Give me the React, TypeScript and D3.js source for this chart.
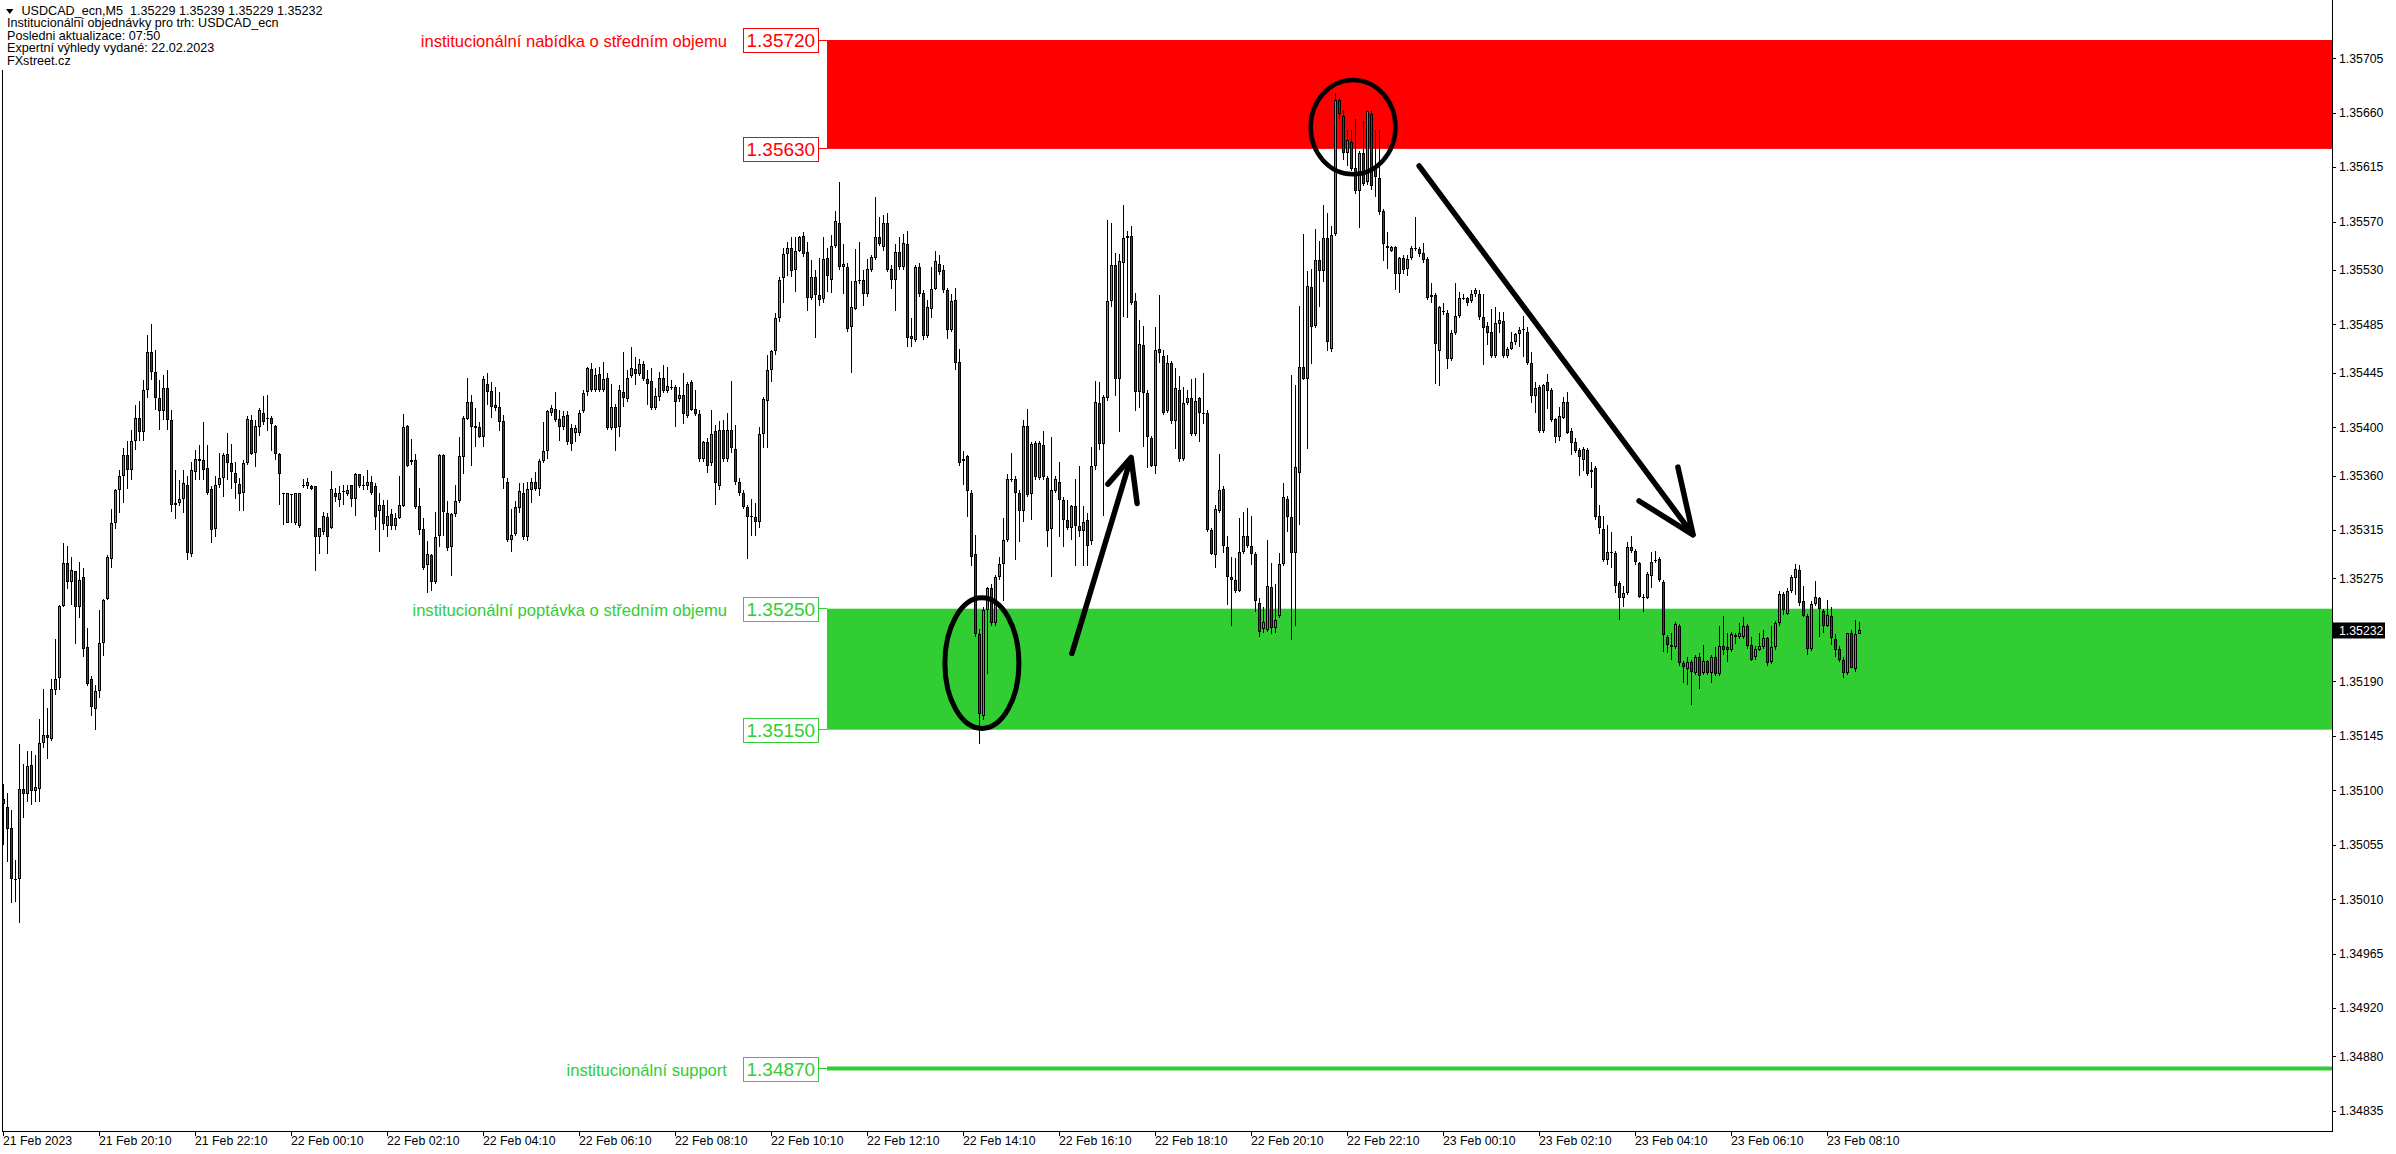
import React, { useEffect, useRef } from 'react';
import * as d3 from 'd3';

// M5 bars, first bar 21 Feb 18:10. [open, high, low, close] in points above 1.30000 (5093 -> 1.35093)
const feb21 = [
  [5093,5105,5055,5089],[5086,5098,5041,5068],[5069,5084,5007,5027],[5026,5042,5008,5027],[5027,5138,4990,5101],
  [5101,5122,5077,5097],[5097,5132,5090,5120],[5121,5132,5088,5099],[5099,5129,5090,5103],[5101,5159,5090,5139],
  [5139,5184,5135,5146],[5146,5168,5126,5143],[5142,5192,5141,5184],[5183,5225,5179,5192],[5193,5253,5183,5252],
  [5252,5304,5251,5288],[5288,5302,5266,5272],[5272,5293,5253,5282],[5281,5281,5221,5251],[5251,5289,5242,5274],
  [5276,5284,5210,5217],[5218,5234,5186,5188],[5192,5194,5161,5169],[5167,5187,5150,5182],[5182,5249,5176,5222],
  [5222,5258,5211,5257],[5258,5294,5257,5293],[5291,5332,5284,5321],[5321,5349,5316,5348],[5348,5365,5329,5360],
  [5360,5383,5337,5377],[5377,5389,5349,5365],[5365,5398,5356,5389],[5389,5418,5381,5408],[5408,5422,5389,5396],
  [5396,5439,5389,5431],[5431,5476,5424,5462],[5462,5485,5439,5446],[5446,5464,5414,5424],[5424,5439,5398,5413],
  [5413,5443,5406,5432],[5432,5447,5398,5406],[5406,5414,5330,5336],[5336,5365,5324,5337],[5337,5356,5335,5341],
  [5341,5365,5329,5354],[5352,5360,5290,5296],[5295,5371,5293,5365],[5363,5381,5356,5374],[5374,5385,5356,5372],
  [5373,5404,5356,5365],[5366,5385,5344,5346],[5349,5351,5304,5315],[5316,5360,5309,5352],[5352,5379,5350,5358],
  [5358,5379,5342,5377],[5378,5395,5356,5370],[5370,5386,5349,5363],[5362,5371,5341,5354],[5353,5358,5331,5345],
  [5346,5373,5331,5370],[5370,5409,5369,5407],[5406,5410,5377,5378],[5379,5406,5367,5401],[5400,5416,5393,5414],
  [5412,5426,5402,5404],[5408,5427,5397,5408],[5408,5409,5380,5403],[5401,5402,5373,5378],[5378,5379,5336,5361],
];

const feb22a = [
  [5346,5346,5319,5346],[5321,5346,5321,5346],[5345,5345,5321,5345],[5321,5346,5319,5346],[5318,5346,5317,5346],
  [5352,5357,5350,5352],[5351,5358,5349,5355],[5351,5352,5348,5349],[5351,5351,5281,5309],[5309,5317,5295,5317],
  [5313,5330,5311,5327],[5326,5329,5295,5309],[5317,5364,5316,5349],[5346,5350,5338,5342],[5340,5351,5334,5346],
  [5347,5352,5336,5347],[5345,5352,5343,5348],[5352,5352,5334,5341],[5341,5362,5327,5361],[5361,5361,5350,5351],
  [5352,5360,5348,5351],[5351,5365,5348,5355],[5355,5360,5344,5346],[5351,5354,5315,5326],[5331,5346,5297,5336],
  [5336,5340,5315,5320],[5318,5340,5309,5327],[5328,5332,5315,5318],[5318,5329,5315,5325],[5325,5360,5324,5336],
  [5335,5411,5334,5400],[5401,5402,5367,5368],[5373,5390,5369,5371],[5373,5378,5332,5334],[5335,5350,5311,5315],
  [5316,5325,5282,5284],[5286,5306,5263,5295],[5294,5295,5265,5272],[5272,5330,5270,5309],[5310,5378,5301,5377],
  [5377,5378,5310,5330],[5329,5339,5298,5300],[5301,5329,5277,5328],[5328,5352,5326,5339],[5339,5392,5337,5376],
  [5375,5409,5361,5408],[5407,5441,5406,5421],[5421,5427,5368,5400],[5401,5416,5384,5399],[5400,5404,5391,5392],
  [5392,5442,5384,5440],[5436,5445,5418,5429],[5430,5437,5408,5417],[5418,5433,5413,5416],[5417,5429,5397,5404],
  [5405,5410,5349,5358],[5355,5358,5305,5307],[5307,5332,5297,5311],[5312,5339,5310,5334],[5333,5354,5329,5347],
  [5346,5354,5307,5309],[5309,5355,5306,5349],[5348,5358,5337,5355],[5355,5363,5347,5349],[5349,5374,5343,5372],
  [5372,5404,5370,5380],[5380,5414,5374,5413],[5412,5418,5409,5416],[5415,5429,5404,5406],[5407,5414,5389,5400],
  [5400,5413,5398,5409],[5410,5413,5385,5388],[5399,5403,5380,5386],[5395,5402,5388,5399],[5395,5414,5393,5412],
  [5413,5431,5412,5428],[5429,5450,5426,5449],[5448,5453,5429,5431],[5431,5449,5429,5443],[5444,5450,5429,5431],
  [5431,5454,5429,5440],[5441,5445,5398,5399],[5399,5436,5398,5417],[5417,5419,5380,5399],[5400,5435,5392,5431],
  [5429,5462,5417,5424],[5423,5447,5421,5441],[5442,5466,5441,5449],[5448,5458,5435,5444],[5444,5456,5442,5452],
  [5452,5455,5438,5440],[5440,5447,5418,5436],[5438,5449,5414,5416],[5416,5432,5414,5426],[5425,5446,5422,5441],
  [5441,5451,5428,5430],[5430,5450,5428,5434],[5433,5439,5431,5433],[5433,5435,5400,5421],[5423,5433,5421,5427],
  [5427,5445,5403,5411],[5409,5437,5408,5436],[5437,5439,5413,5414],[5415,5431,5409,5411],[5411,5414,5371,5374],
  [5374,5389,5371,5388],[5388,5391,5362,5368],[5370,5414,5368,5394],[5397,5402,5336,5354],[5351,5405,5348,5398],
  [5398,5406,5371,5374],[5374,5412,5371,5398],[5398,5438,5379,5383],[5382,5402,5352,5355],[5355,5358,5343,5346],
  [5346,5348,5332,5334],[5334,5336,5291,5326],[5327,5341,5310,5326],[5326,5337,5310,5322],[5322,5400,5317,5394],
  [5394,5425,5383,5423],[5422,5460,5383,5447],[5447,5464,5437,5463],[5463,5494,5460,5490],[5490,5524,5487,5522],
  [5523,5548,5503,5543],[5543,5553,5525,5548],[5548,5557,5524,5529],[5530,5557,5512,5546],[5546,5558,5545,5557],
  [5558,5561,5541,5543],[5545,5553,5496,5507],[5507,5538,5505,5524],[5524,5530,5474,5509],[5509,5540,5500,5505],
  [5506,5557,5503,5539],[5540,5548,5512,5525],[5522,5559,5511,5550],[5550,5579,5548,5570],[5569,5603,5530,5532],
  [5532,5551,5510,5535],[5532,5536,5479,5481],[5483,5521,5445,5499],[5498,5547,5497,5521],
];

const feb22b = [
  [5521,5553,5518,5522],[5522,5530,5500,5510],[5510,5539,5508,5531],[5530,5542,5528,5541],[5540,5590,5538,5557],
  [5557,5574,5550,5551],[5549,5575,5546,5569],[5569,5577,5528,5530],[5531,5534,5514,5522],[5522,5551,5496,5545],
  [5545,5557,5530,5532],[5532,5560,5530,5552],[5551,5562,5466,5474],[5475,5490,5466,5473],[5472,5534,5470,5532],
  [5532,5536,5508,5510],[5511,5513,5472,5475],[5475,5505,5474,5499],[5498,5532,5490,5514],[5514,5546,5513,5537],
  [5535,5542,5526,5528],[5530,5534,5511,5513],[5513,5515,5473,5480],[5480,5510,5479,5504],[5505,5515,5447,5453],
  [5454,5465,5368,5370],[5374,5380,5352,5372],[5376,5377,5326,5347],[5346,5348,5285,5293],[5295,5311,5227,5229],
  [5229,5233,5138,5163],[5161,5251,5158,5249],[5249,5268,5196,5267],[5267,5270,5236,5238],[5238,5278,5236,5276],
  [5276,5293,5274,5287],[5287,5325,5256,5307],[5307,5361,5305,5357],[5357,5379,5355,5357],[5357,5360,5290,5346],
  [5346,5348,5305,5331],[5331,5406,5322,5401],[5401,5415,5342,5344],[5345,5388,5323,5386],[5387,5389,5356,5359],
  [5358,5389,5356,5387],[5385,5397,5356,5359],[5358,5360,5301,5314],[5316,5392,5276,5348],[5347,5360,5346,5357],
  [5355,5371,5309,5340],[5340,5342,5301,5323],[5323,5340,5315,5317],[5317,5336,5307,5335],[5335,5357,5285,5318],
  [5318,5368,5309,5314],[5314,5335,5285,5322],[5323,5329,5285,5302],[5306,5384,5303,5368],[5368,5438,5365,5421],
  [5420,5437,5381,5386],[5386,5427,5327,5425],[5424,5571,5422,5504],[5504,5569,5499,5534],[5534,5544,5426,5440],
  [5440,5543,5396,5537],[5536,5584,5491,5556],[5556,5562,5490,5558],[5558,5566,5501,5503],[5504,5511,5413,5429],
  [5429,5489,5416,5469],[5468,5484,5384,5428],[5428,5431,5366,5392],[5391,5393,5367,5368],[5368,5483,5361,5464],
  [5465,5509,5453,5461],[5459,5464,5410,5412],[5413,5460,5412,5453],[5453,5455,5403,5405],[5405,5449,5382,5432],
  [5431,5442,5371,5374],[5374,5433,5372,5420],[5420,5431,5418,5424],[5424,5440,5393,5394],[5394,5441,5393,5422],
  [5424,5425,5388,5412],[5412,5445,5403,5412],[5412,5414,5313,5315],[5315,5317,5294,5295],[5294,5336,5284,5332],
  [5331,5378,5329,5348],[5349,5351,5296,5302],[5301,5310,5253,5276],[5276,5293,5236,5274],[5274,5292,5263,5265],
  [5265,5325,5264,5297],[5297,5330,5295,5310],[5310,5333,5300,5302],[5302,5327,5286,5295],[5295,5297,5247,5256],
  [5255,5259,5227,5231],[5233,5251,5230,5239],[5232,5307,5231,5269],[5268,5288,5229,5234],[5234,5270,5230,5241],
  [5244,5296,5242,5287],[5287,5354,5285,5342],[5341,5343,5313,5326],[5326,5443,5224,5296],[5296,5435,5236,5367],
  [5362,5500,5319,5450],[5450,5560,5439,5440],[5440,5529,5382,5517],[5516,5531,5452,5483],[5484,5564,5482,5538],
  [5538,5554,5499,5529],[5529,5584,5520,5556],[5556,5577,5463,5470],[5465,5566,5462,5559],[5560,5676,5558,5670],
  [5670,5672,5654,5659],[5657,5662,5621,5627],[5627,5646,5616,5637],[5636,5646,5612,5613],[5614,5655,5593,5595],
  [5595,5628,5565,5627],[5627,5653,5599,5601],[5603,5662,5600,5661],[5659,5662,5596,5599],[5614,5646,5590,5607],
  [5606,5646,5575,5578],[5579,5580,5537,5551],[5550,5561,5531,5548],[5546,5550,5545,5549],[5549,5550,5513,5527],
  [5527,5541,5511,5540],[5540,5542,5527,5530],[5531,5542,5525,5539],[5540,5550,5538,5548],[5548,5574,5546,5547],
  [5547,5549,5541,5543],[5544,5552,5536,5538],[5539,5541,5505,5507],[5509,5519,5503,5508],
];

const feb23 = [
  [5509,5511,5436,5469],[5463,5500,5434,5499],[5496,5503,5493,5496],[5494,5497,5448,5456],[5456,5480,5455,5478],
  [5478,5519,5476,5492],[5492,5512,5490,5507],[5507,5510,5505,5506],[5507,5508,5500,5503],[5504,5513,5503,5510],
  [5510,5515,5508,5513],[5510,5513,5489,5491],[5491,5510,5451,5482],[5484,5487,5468,5478],[5479,5498,5457,5459],
  [5459,5499,5457,5486],[5485,5495,5478,5489],[5488,5495,5457,5459],[5459,5466,5457,5465],[5465,5479,5464,5470],
  [5470,5478,5468,5477],[5477,5483,5466,5480],[5481,5492,5458,5481],[5479,5483,5451,5453],[5453,5462,5420,5426],
  [5426,5437,5412,5432],[5433,5435,5395,5397],[5397,5436,5395,5435],[5437,5444,5415,5430],[5431,5432,5404,5406],
  [5407,5408,5387,5392],[5392,5417,5389,5409],[5408,5425,5407,5421],[5421,5429,5394,5395],[5397,5399,5377,5387],
  [5388,5391,5379,5380],[5381,5383,5360,5375],[5373,5384,5364,5382],[5381,5383,5360,5361],[5365,5371,5350,5363],
  [5366,5368,5323,5326],[5327,5336,5312,5317],[5316,5327,5289,5290],[5290,5319,5286,5297],[5297,5313,5284,5296],
  [5296,5298,5263,5269],[5271,5273,5241,5259],[5259,5269,5251,5263],[5263,5305,5261,5301],[5301,5310,5296,5298],
  [5298,5299,5286,5289],[5288,5289,5259,5260],[5259,5262,5247,5260],[5259,5280,5258,5279],[5277,5297,5267,5289],
  [5290,5298,5288,5290],[5291,5293,5272,5274],[5272,5274,5214,5228],[5227,5228,5213,5220],[5220,5230,5208,5218],
  [5218,5239,5217,5237],[5236,5237,5203,5205],[5205,5207,5189,5202],[5200,5210,5187,5206],[5206,5208,5170,5198],
  [5197,5212,5195,5210],[5210,5213,5184,5194],[5197,5220,5195,5207],[5207,5208,5195,5197],[5197,5212,5189,5210],
  [5210,5218,5194,5196],[5196,5236,5194,5219],[5219,5244,5212,5216],[5218,5230,5206,5216],[5216,5231,5214,5229],
  [5228,5230,5221,5227],[5227,5238,5225,5230],[5227,5243,5225,5236],[5236,5237,5217,5219],[5220,5227,5207,5208],
  [5210,5219,5208,5217],[5216,5230,5215,5219],[5218,5232,5217,5226],[5226,5227,5203,5205],[5206,5236,5204,5218],
  [5218,5240,5216,5238],[5238,5265,5236,5262],[5262,5264,5245,5249],[5246,5267,5245,5265],[5265,5278,5263,5276],
  [5275,5287,5261,5283],[5282,5286,5252,5255],[5256,5269,5243,5244],[5244,5246,5212,5217],[5217,5256,5215,5254],
  [5254,5273,5252,5260],[5259,5260,5227,5250],[5248,5250,5230,5236],[5236,5257,5235,5245],[5244,5251,5220,5226],
  [5225,5229,5210,5216],[5217,5219,5206,5208],[5208,5210,5193,5197],[5197,5230,5195,5230],[5230,5232,5201,5201],
  [5200,5241,5198,5229],[5229,5239,5229,5232],
];

const TIME_LABELS = [
  '21 Feb 2023', '21 Feb 20:10', '21 Feb 22:10', '22 Feb 00:10', '22 Feb 02:10', '22 Feb 04:10',
  '22 Feb 06:10', '22 Feb 08:10', '22 Feb 10:10', '22 Feb 12:10', '22 Feb 14:10', '22 Feb 16:10',
  '22 Feb 18:10', '22 Feb 20:10', '22 Feb 22:10', '23 Feb 00:10', '23 Feb 02:10', '23 Feb 04:10',
  '23 Feb 06:10', '23 Feb 08:10',
];
const PRICE_TICKS = [
  1.35705, 1.3566, 1.35615, 1.3557, 1.3553, 1.35485, 1.35445, 1.354, 1.3536, 1.35315, 1.35275,
  1.3519, 1.35145, 1.351, 1.35055, 1.3501, 1.34965, 1.3492, 1.3488, 1.34835,
];
const LAST_PRICE = 1.35232;

const HEADER = [
  'USDCAD_ecn,M5  1.35229 1.35239 1.35229 1.35232',
  'Institucionální objednávky pro trh: USDCAD_ecn',
  'Posledni aktualizace: 07:50',
  'Expertní výhledy vydané: 22.02.2023',
  'FXstreet.cz',
];

const SUPPLY = { top: 1.3572, bottom: 1.3563, label: 'institucionální nabídka o středním objemu' };
const DEMAND = { top: 1.3525, bottom: 1.3515, label: 'institucionální poptávka o středním objemu' };
const SUPPORT = { price: 1.3487, label: 'institucionální support' };
const ZONE_START_BAR = 206;

// hand-drawn marks, in (bar index, price)
const ELLIPSES = [
  { bar: 244.6, price: 1.35205, rBars: 9.25, rPrice: 0.00054, w: 5 },
  { bar: 337.4, price: 1.35648, rBars: 10.6, rPrice: 0.00039, w: 4.5 },
];
const ARROWS = [
  { from: [267.1, 1.35213], tip: [281.9, 1.35375], wings: [[276.1, 1.35353], [283.4, 1.35337]] },
  { from: [353.9, 1.35616], tip: [422.4, 1.35311], wings: [[408.9, 1.35339], [418.6, 1.35367]] },
];

const RED = '#ff0000';
const LIME = '#32cd32';
const BULL = '#3cb43c';
const BEAR = '#d80000';
const FONT = "'Liberation Sans', Arial, sans-serif";

export default function App() {
  const svgRef = useRef<SVGSVGElement>(null);

  useEffect(() => {
    document.body.style.margin = '0';
    const width = 2396;
    const height = 1154;
    const plotRight = 2332;
    const plotBottom = 1131;

    const bars = [...feb21, ...feb22a, ...feb22b, ...feb23].map(([o, h, l, c]) => ({
      o: 1.3 + o / 1e5, h: 1.3 + h / 1e5, l: 1.3 + l / 1e5, c: 1.3 + c / 1e5,
    }));

    const x = d3.scaleLinear().domain([0, bars.length - 1]).range([3.5, 3.5 + 4 * (bars.length - 1)]);
    const y = d3.scaleLinear().domain([1.3572, 1.3487]).range([40, 1068.5]);

    const svg = d3.select(svgRef.current);
    svg.selectAll('*').remove();
    svg.attr('width', width).attr('height', height).attr('viewBox', `0 0 ${width} ${height}`);
    svg.append('rect').attr('width', width).attr('height', height).attr('fill', '#fff');

    // zones + support line
    const zx = x(ZONE_START_BAR) - 0.5;
    [[SUPPLY, RED], [DEMAND, LIME]].forEach(([z, col]: any) => {
      svg.append('rect').attr('x', zx).attr('y', y(z.top)).attr('width', plotRight - zx)
        .attr('height', y(z.bottom) - y(z.top)).attr('fill', col);
    });
    svg.append('line').attr('x1', zx).attr('x2', plotRight).attr('y1', y(SUPPORT.price)).attr('y2', y(SUPPORT.price))
      .attr('stroke', LIME).attr('stroke-width', 4);

    // candles
    const g = svg.append('g').attr('shape-rendering', 'crispEdges');
    bars.forEach((b, i) => {
      const cx = x(i);
      const hy = Math.round(y(b.h));
      const ly = Math.round(y(b.l));
      g.append('rect').attr('x', cx - 0.5).attr('y', hy).attr('width', 1).attr('height', Math.max(1, ly - hy)).attr('fill', '#000');
      const top = Math.round(y(Math.max(b.o, b.c)));
      const bot = Math.round(y(Math.min(b.o, b.c)));
      const bh = Math.max(1, bot - top);
      g.append('rect').attr('x', cx - 1.5).attr('y', top).attr('width', 3).attr('height', bh).attr('fill', '#000');
      if (bh > 2) {
        g.append('rect').attr('x', cx - 0.5).attr('y', top + 1).attr('width', 1).attr('height', bh - 2)
          .attr('fill', b.c >= b.o ? BULL : BEAR);
      }
    });

    // level boxes and labels
    const boxW = 75;
    const boxRight = zx - 9;
    const levelBox = (price: number, col: string, label?: string) => {
      const py = y(price);
      svg.append('line').attr('x1', boxRight).attr('x2', zx).attr('y1', py).attr('y2', py)
        .attr('stroke', col).attr('stroke-width', 1).attr('shape-rendering', 'crispEdges');
      svg.append('rect').attr('x', boxRight - boxW + 0.5).attr('y', Math.round(py - 12) + 0.5)
        .attr('width', boxW).attr('height', 24).attr('fill', '#fff').attr('stroke', col).attr('stroke-width', 1);
      svg.append('text').attr('x', boxRight - boxW + 3.5).attr('y', py + 7.3)
        .style('font-family', FONT).style('font-size', '19px').style('fill', col).text(price.toFixed(5));
      if (label) {
        svg.append('text').attr('x', boxRight - boxW - 16).attr('y', py + 7.3).attr('text-anchor', 'end')
          .style('font-family', FONT).style('font-size', '16.6px').style('fill', col).text(label);
      }
    };
    levelBox(SUPPLY.top, RED, SUPPLY.label);
    levelBox(SUPPLY.bottom, RED);
    levelBox(DEMAND.top, LIME, DEMAND.label);
    levelBox(DEMAND.bottom, LIME);
    levelBox(SUPPORT.price, LIME, SUPPORT.label);

    // annotations
    ELLIPSES.forEach(e => {
      svg.append('ellipse').attr('cx', x(e.bar)).attr('cy', y(e.price))
        .attr('rx', x(e.bar + e.rBars) - x(e.bar)).attr('ry', y(e.price - e.rPrice) - y(e.price))
        .attr('fill', 'none').attr('stroke', '#000').attr('stroke-width', e.w);
    });
    ARROWS.forEach(a => {
      const p = (d: number[]) => `${x(d[0])},${y(d[1])}`;
      svg.append('path')
        .attr('d', `M${p(a.from)}L${p(a.tip)}M${p(a.wings[0])}L${p(a.tip)}L${p(a.wings[1])}`)
        .attr('fill', 'none').attr('stroke', '#000').attr('stroke-width', 5.5)
        .attr('stroke-linecap', 'round').attr('stroke-linejoin', 'round');
    });

    // frame
    const frame = svg.append('g').attr('shape-rendering', 'crispEdges').attr('stroke', '#000');
    frame.append('line').attr('x1', plotRight + 0.5).attr('x2', plotRight + 0.5).attr('y1', 0).attr('y2', plotBottom);
    frame.append('line').attr('x1', 2.5).attr('x2', 2.5).attr('y1', 70).attr('y2', plotBottom);
    frame.append('line').attr('x1', 2).attr('x2', plotRight + 1).attr('y1', plotBottom + 0.5).attr('y2', plotBottom + 0.5);

    // price axis
    PRICE_TICKS.forEach(v => {
      const py = Math.round(y(v)) + 0.5;
      frame.append('line').attr('x1', plotRight).attr('x2', plotRight + 4).attr('y1', py).attr('y2', py);
      svg.append('text').attr('x', 2339).attr('y', y(v) + 4.4)
        .style('font-family', FONT).style('font-size', '12.3px').style('fill', '#000').text(v.toFixed(5));
    });
    const ly0 = y(LAST_PRICE);
    svg.append('rect').attr('x', plotRight + 1).attr('y', ly0 - 8).attr('width', 52).attr('height', 16).attr('fill', '#000');
    svg.append('text').attr('x', 2339).attr('y', ly0 + 4.4)
      .style('font-family', FONT).style('font-size', '12.3px').style('fill', '#fff').text(LAST_PRICE.toFixed(5));

    // time axis
    TIME_LABELS.forEach((t, i) => {
      const bx = x(i * 24);
      frame.append('line').attr('x1', Math.floor(bx) + 0.5).attr('x2', Math.floor(bx) + 0.5)
        .attr('y1', plotBottom).attr('y2', plotBottom + 5);
      svg.append('text').attr('x', Math.floor(bx)).attr('y', 1145)
        .style('font-family', FONT).style('font-size', '12.3px').style('fill', '#000').text(t);
    });

    // header
    svg.append('path').attr('d', 'M6,9 L13.5,9 L9.75,14 Z').attr('fill', '#000');
    HEADER.forEach((line, i) => {
      svg.append('text').attr('x', i === 0 ? 21.5 : 7).attr('y', 15 + i * 12.4)
        .style('font-family', FONT).style('font-size', '12.6px').style('fill', '#000')
        .style('white-space', 'pre').text(line);
    });
  }, []);

  return (
    <div style={{ position: 'absolute', left: 0, top: 0, width: 2396, height: 1154, background: '#fff', overflow: 'hidden' }}>
      <svg ref={svgRef} style={{ display: 'block' }}></svg>
    </div>
  );
}
